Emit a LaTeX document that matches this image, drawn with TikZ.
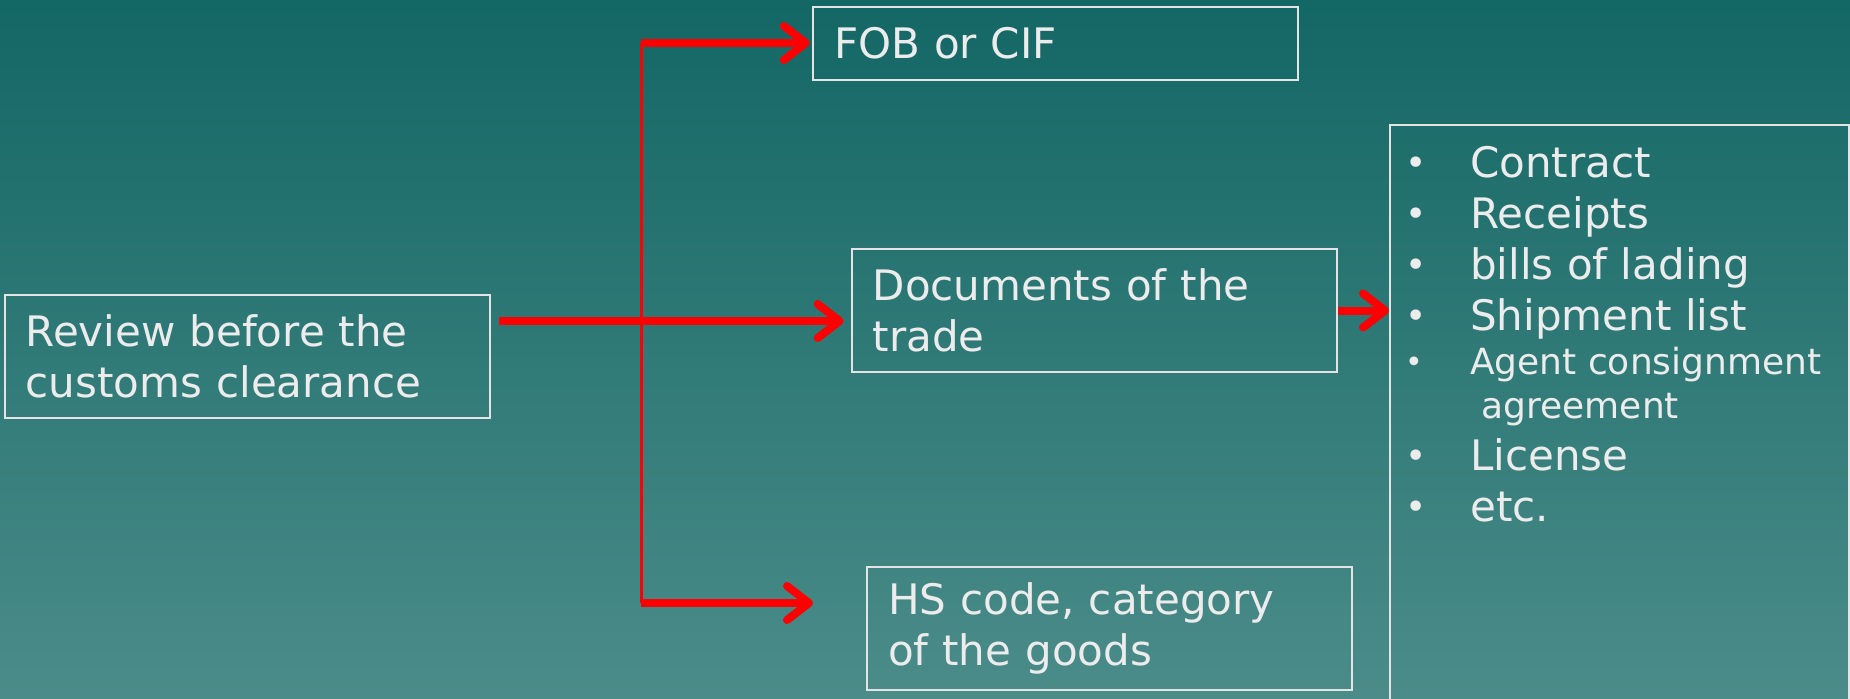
\documentclass[tikz,border=0pt]{standalone}
\usepackage{fontspec}
\setmainfont{DejaVu Sans}
\usepackage{xcolor}
\usepackage{tikz}
\usetikzlibrary{arrows.meta}

\definecolor{bgtop}{RGB}{19,103,101}
\definecolor{bgbottom}{RGB}{75,140,137}
\definecolor{txt}{RGB}{236,236,236}
\definecolor{boxline}{RGB}{228,228,228}
\definecolor{arrowred}{RGB}{255,0,0}

\begin{document}
\begin{tikzpicture}[x=0.5pt,y=-0.5pt,
  box/.style={draw=boxline,line width=1.2pt,text=txt,align=left,
    inner xsep=10.5pt,text width=221.5pt,minimum height=61.5pt,
    font=\fontsize{21}{25.2}\selectfont},
  redarrow/.style={draw=arrowred,line width=4pt,
    -{Straight Barb[length=11pt,width=17pt,round]},
    preaction={draw=black,opacity=0.25,transform canvas={shift={(1.2pt,-1.2pt)}}}},
  ]

  \def\bulletmark#1#2{\makebox[31pt][l]{\hspace*{-1.5pt}\raisebox{#2}{\fontsize{#1}{#1}\selectfont\textbullet}}}
  \def\litem#1{\bulletmark{18}{1pt}#1\par}

  % background
  \useasboundingbox (0,0) rectangle (1850,698);
  \shade[top color=bgtop,bottom color=bgbottom] (0,0) rectangle (1850,698);

  \node[box] (review) at (247.3,356.5) {Review before the\\customs clearance};
  \node[box,minimum height=36.5pt] (fob) at (1055.5,43.5) {FOB or CIF};
  \node[box] (docs) at (1094.3,310.5) {Documents of the\\trade};
  \node[box] (hs) at (1109.5,628.5) {HS code, category\\of the goods};

  \node[draw=boxline,line width=1.2pt,text=txt,anchor=north west,
    inner xsep=9pt,inner ysep=0pt] (doclist) at (1389,124)
  {\begin{minipage}[c][320pt][t]{211.5pt}
      \raggedright\vspace*{10.5pt}
      \fontsize{21}{25.6}\selectfont
      \litem{Contract}
      \litem{Receipts}
      \litem{bills of lading}
      \litem{Shipment list}
      {\fontsize{18}{22}\selectfont
        \bulletmark{15}{1pt}Agent consignment\\
        \hspace*{31pt} agreement\par}
      \litem{License}
      \litem{etc.}
    \end{minipage}};

  \coordinate (trunk) at (499,321);
  \coordinate (split top) at (641,43);
  \coordinate (split bottom) at (641,603);
  \coordinate (hs tip) at (813,603);

  \draw[arrowred,line width=1.5pt] (split top) -- (split bottom);
  \draw[redarrow,shorten >=3.5pt] (trunk) -- (trunk -| docs.west);
  \draw[redarrow,shorten >=1pt] (split top) -- (split top -| fob.west);
  \draw[redarrow] (split bottom) -- (hs tip);
  \draw[redarrow] (docs.east) -- (docs.east -| doclist.west);

\end{tikzpicture}
\end{document}
